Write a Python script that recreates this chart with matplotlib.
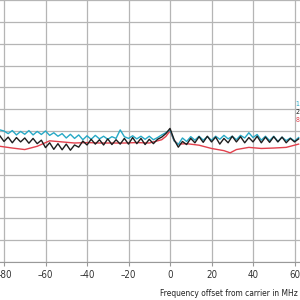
import numpy as np
import matplotlib
matplotlib.use("Agg")
import matplotlib.pyplot as plt

plt.rcParams['font.family'] = ['DejaVu Sans']
plt.rcParams['font.stretch'] = 'condensed'

# frequency offset (MHz) for the two noisy traces
freq = np.arange(-82, 63, 2)

cyan_1 = [6.05, 6.0, 5.88, 6.02, 5.82, 5.98, 5.85, 6.02, 5.82, 5.98, 5.84, 6.0,
          5.8, 5.92, 5.76, 5.88, 5.68, 5.85, 5.66, 5.82, 5.6, 5.78, 5.62, 5.8,
          5.64, 5.76, 5.62, 5.74, 5.66, 6.05, 5.74, 5.66, 5.78, 5.64, 5.76, 5.62,
          5.76, 5.6, 5.7, 5.82, 5.92,
          6.05, 5.55, 5.38, 5.68, 5.52, 5.74, 5.58, 5.76, 5.58, 5.74, 5.58, 5.76,
          5.62, 5.8, 5.64, 5.76, 5.6, 5.8, 5.68, 5.92, 5.7, 5.84, 5.58, 5.76,
          5.56, 5.76, 5.52, 5.72, 5.56, 5.68, 5.54, 5.7]

black_2 = [5.78, 5.52, 5.72, 5.46, 5.7, 5.5, 5.68, 5.44, 5.66, 5.42, 5.58, 5.24,
           5.46, 5.16, 5.42, 5.14, 5.4, 5.12, 5.36, 5.26, 5.54, 5.36, 5.62, 5.4,
           5.6, 5.36, 5.64, 5.38, 5.6, 5.4, 5.66, 5.4, 5.7, 5.42, 5.66, 5.38,
           5.62, 5.42, 5.62, 5.72, 5.88,
           6.12, 5.6, 5.26, 5.52, 5.38, 5.66, 5.46, 5.74, 5.48, 5.76, 5.5, 5.72,
           5.4, 5.66, 5.46, 5.76, 5.5, 5.74, 5.46, 5.7, 5.5, 5.76, 5.46, 5.72,
           5.48, 5.74, 5.5, 5.72, 5.46, 5.66, 5.5, 5.64]

red_f = [-82, -76, -70, -64, -58, -52, -46, -40, -34, -28, -22, -16, -10, -4, -2,
         0, 2, 4, 8, 14, 20, 26, 29, 32, 38, 44, 50, 56, 62]
red_8 = [5.3, 5.22, 5.15, 5.3, 5.55, 5.5, 5.45, 5.47, 5.45, 5.45, 5.45, 5.47, 5.45,
         5.6, 5.75, 6.0, 5.55, 5.4, 5.42, 5.35, 5.2, 5.1, 5.0, 5.15, 5.25, 5.2,
         5.22, 5.25, 5.4]

xticks = [-80, -60, -40, -20, 0, 20, 40, 60]

c_cyan = "#27a9c6"
c_black = "#1e1e1e"
c_red = "#e2404c"

fig = plt.figure(figsize=(3, 3), dpi=100)
ax = fig.add_axes([0, 38/300, 1, 262/300])

ax.plot(red_f, red_8, color=c_red, lw=1.0)
ax.plot(freq, cyan_1, color=c_cyan, lw=1.0)
ax.plot(freq, black_2, color=c_black, lw=1.0)

ax.set_xlim(-81.93, 62.65)
ax.set_ylim(0, 12)
ax.set_xticks(xticks)
ax.set_yticks(range(0, 13))
ax.set_xticklabels([f"{t}".replace("-", "\u2013") for t in xticks], fontsize=7, color="#333333")
ax.tick_params(axis="x", length=3, color="#999999", pad=3)
ax.tick_params(axis="y", left=False, labelleft=False)
ax.grid(True, color="#b5b5b5", lw=0.9)
for s in ["top", "right", "left"]:
    ax.spines[s].set_visible(False)
ax.spines["bottom"].set_color("#999999")

# trace labels at the right edge
ax.text(60.6, 7.25, "1", color=c_cyan, fontsize=5, va="center")
ax.text(60.6, 6.88, "2", color=c_black, fontsize=5, va="center")
ax.text(60.6, 6.52, "8", color=c_red, fontsize=5, va="center")

fig.text(298/300, 1 - 293/300, "Frequency offset from carrier in MHz",
         fontsize=6, color="#222222", ha="right", va="center")

fig.savefig("out.png", dpi=100)
